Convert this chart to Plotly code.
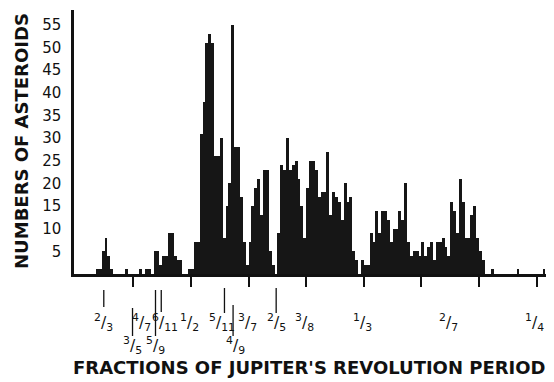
import plotly.graph_objects as go

# Kirkwood gaps: asteroid counts per 5"/day of mean daily motion
motion_bins = [435, 440, 445, 450, 455, 460, 485, 510, 520, 525,
               535, 540, 545, 550, 555, 560, 565, 570, 575, 580,
               595, 600, 605, 610, 615, 620, 625, 630, 635, 640,
               645, 650, 655, 660, 665, 670, 675, 680, 685, 690,
               695, 700, 705, 710, 715, 720, 725, 730, 735, 740,
               750, 755, 760, 765, 770, 775, 780, 785, 790, 795,
               800, 805, 810, 815, 820, 825, 830, 835, 840, 845,
               850, 855, 860, 865, 870, 875, 880, 885, 895, 900,
               905, 910, 915, 920, 925, 930, 935, 940, 945, 950,
               955, 960, 965, 970, 975, 980, 985, 990, 995, 1000,
               1005, 1010, 1015, 1020, 1025, 1030, 1035, 1040, 1045, 1050,
               1055, 1060, 1065, 1070, 1075, 1080, 1085, 1090, 1095, 1100,
               1105, 1120, 1165, 1210]
counts = [1, 1, 5, 8, 4, 1, 1, 1, 1, 1,
          5, 5, 2, 4, 4, 9, 9, 4, 3, 3,
          1, 1, 7, 7, 31, 38, 51, 53, 51, 26,
          26, 30, 8, 15, 20, 55, 28, 28, 17, 7,
          2, 7, 15, 19, 21, 13, 23, 23, 5, 2,
          9, 24, 23, 30, 23, 24, 25, 21, 15, 8,
          19, 25, 25, 23, 17, 18, 18, 27, 13, 18,
          17, 16, 12, 20, 16, 17, 5, 3, 3, 2,
          2, 9, 7, 14, 9, 14, 14, 12, 7, 10,
          10, 14, 12, 20, 7, 4, 5, 5, 4, 7,
          4, 6, 7, 3, 7, 7, 8, 6, 4, 16,
          14, 9, 21, 16, 8, 8, 13, 15, 8, 5,
          3, 1, 1, 1]

JUPITER_MOTION = 299.13  # "/day

# resonance fractions (numerator, denominator)
res_num = [2, 3, 4, 5, 6, 1, 5, 4, 3, 2, 3, 1, 2, 1]
res_den = [3, 5, 7, 9, 11, 2, 11, 9, 7, 5, 8, 3, 7, 4]

y_ticks = [5, 10, 15, 20, 25, 30, 35, 40, 45, 50, 55]
x_ticks = [500, 600, 700, 800, 900, 1000, 1100, 1200]

# label row (1 = upper, 2 = lower), small nudges, guide line extent (px below axis)
label_row = {"3/5": 2, "5/9": 2, "4/9": 2}
label_shift = {"4/7": -5, "6/11": 4, "5/11": -2, "4/9": 2}
guide = {"2/3": (16, 33), "3/5": (34, 62), "5/9": (16, 62), "6/11": (16, 38),
         "5/11": (14, 39), "4/9": (31, 62), "2/5": (14, 39)}

PLOT_H = 264
FONT = "DejaVu Sans"
INK = "#111"

fig = go.Figure()
fig.add_trace(go.Bar(x=motion_bins, y=counts, width=5, offset=0,
                     marker=dict(color="#161616", line_width=0)))

for p, q in zip(res_num, res_den):
    key = f"{p}/{q}"
    xr = JUPITER_MOTION * q / p
    row = label_row.get(key, 1)
    fig.add_annotation(x=xr, xref="x", y=-(48 if row == 1 else 71) / PLOT_H, yref="paper",
                       text=f"<sup>{p}</sup>/<sub>{q}</sub>", showarrow=False,
                       font=dict(family=FONT, size=15.5, color=INK),
                       xshift=label_shift.get(key, 0),
                       xanchor="center", yanchor="middle")
    if key in guide:
        a, b = guide[key]
        fig.add_shape(type="line", xref="x", yref="paper", x0=xr, x1=xr,
                      y0=-a / PLOT_H, y1=-b / PLOT_H,
                      line=dict(color=INK, width=1.3))

fig.add_annotation(x=0.495, xref="paper", y=-93 / PLOT_H, yref="paper",
                   text="<b>FRACTIONS OF JUPITER'S REVOLUTION PERIOD</b>", showarrow=False,
                   font=dict(family=FONT, size=18, color=INK),
                   xanchor="center", yanchor="middle")
fig.add_annotation(x=-52 / 476, xref="paper", y=0.504, yref="paper",
                   text="<b>NUMBERS OF ASTEROIDS</b>", showarrow=False, textangle=-90,
                   font=dict(family=FONT, size=18, color=INK),
                   xanchor="center", yanchor="middle")

# page body has an 8px margin, so the figure is 8px smaller and shifted
fig.update_layout(width=546, height=374,
                  margin=dict(l=66, r=4, t=2, b=108),
                  plot_bgcolor="white", paper_bgcolor="white",
                  bargap=0, showlegend=False)
fig.update_xaxes(range=[397, 1223], showgrid=False, zeroline=False, automargin=False,
                 showline=True, linecolor=INK, linewidth=2.5,
                 tickvals=x_ticks, showticklabels=False,
                 ticks="outside", ticklen=10, tickwidth=1.5, tickcolor=INK)
fig.update_yaxes(range=[0, 58.3], showgrid=False, zeroline=False, automargin=False,
                 showline=True, linecolor=INK, linewidth=2.5,
                 tickvals=y_ticks, ticks="", ticklabelstandoff=7,
                 tickfont=dict(family=FONT, size=15, color=INK))

fig.write_html("out.html")
